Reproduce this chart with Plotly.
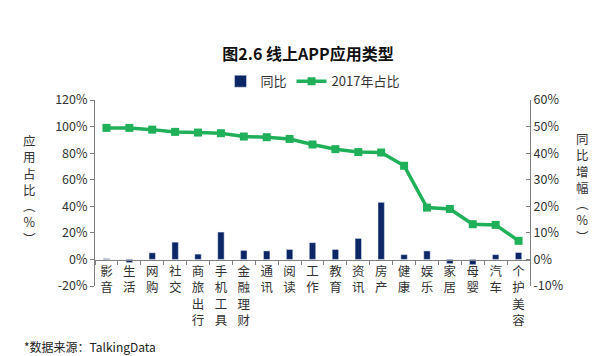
import plotly.graph_objects as go

categories = ["影音", "生活", "网购", "社交", "商旅出行", "手机工具", "金融理财", "通讯", "阅读", "工作",
              "教育", "资讯", "房产", "健康", "娱乐", "家居", "母婴", "汽车", "个护美容"]
share_2017 = [99, 99, 97.7, 96, 95.5, 95, 92.5, 92, 90.7, 86.5, 83, 80.8, 80.5, 70.5, 39, 38, 26.5, 26, 14]
yoy = [0.3, -1.2, 2.5, 6.5, 2, 10.3, 3.4, 3.2, 3.75, 6.3, 3.75, 7.9, 21.5, 1.8, 3.2, -1.6, -2.0, 1.8, 2.6]

left_ticks = [-20, 0, 20, 40, 60, 80, 100, 120]
right_ticks = [-10, 0, 10, 20, 30, 40, 50, 60]
left_title = ["应", "用", "占", "比", "︵", "%", "︶"]
right_title = ["同", "比", "增", "幅", "︵", "%", "︶"]

FONT = "Noto Sans CJK SC"
NAVY = "#0d2766"
GREEN = "#21b05a"
AX = "#808080"
TXT = "#333333"

ticktext = ["<br>".join(list(c)) for c in categories]

fig = go.Figure()
fig.add_trace(go.Bar(x=categories, y=yoy, name="同比", marker_color=NAVY, yaxis="y2", width=0.28))
fig.add_trace(go.Scatter(x=categories, y=share_2017, name="2017年占比", mode="lines+markers",
                         line=dict(color=GREEN, width=3.5),
                         marker=dict(symbol="square", size=8, color=GREEN)))

plot_top, plot_bot = 92, 278
H = plot_bot - plot_top
W = 522 - 87
zero_frac = (plot_bot - 252) / H


def py(p):
    return (plot_bot - p) / H


def px(p):
    return (p - 87) / W


fig.update_layout(
    width=600, height=356,
    margin=dict(l=87, r=600 - 522, t=plot_top, b=356 - plot_bot),
    paper_bgcolor="white", plot_bgcolor="white",
    font=dict(family=FONT, size=12, color=TXT),
    showlegend=True,
    legend=dict(orientation="h", x=0.5, xanchor="center", y=1.02, yanchor="bottom",
                font=dict(size=13, color=TXT), traceorder="normal"),
    title=dict(text="<b>图2.6 线上APP应用类型</b>", x=0.5, xanchor="center", y=0.87, yanchor="middle",
               font=dict(size=16, color="#111111", family=FONT)),
    bargap=0.7,
    xaxis=dict(type="category", tickmode="array", tickvals=categories, ticktext=ticktext,
               anchor="free", position=zero_frac, showline=True, linecolor=AX, linewidth=1,
               ticks="outside", tickson="boundaries", ticklen=4, tickcolor=AX,
               showgrid=False, tickfont=dict(size=12.5, color=TXT), range=[-0.5, len(categories) - 0.5]),
    yaxis=dict(range=[-20, 120], tickvals=left_ticks, ticktext=[f"{v}%" for v in left_ticks],
               showline=True, linecolor=AX, ticks="outside", ticklen=4, tickcolor=AX,
               showgrid=False, zeroline=False, tickfont=dict(size=12.5, color=TXT)),
    yaxis2=dict(range=[-10, 60], tickvals=right_ticks, ticktext=[f"{v}%" for v in right_ticks],
                overlaying="y", side="right", showline=True, linecolor=AX, ticks="inside", ticklen=4,
                tickcolor=AX, showgrid=False, zeroline=False, tickfont=dict(size=12.5, color=TXT)),
)

fig.add_annotation(text="<br>".join(left_title), xref="paper", yref="paper", x=px(21), y=py(181),
                   xanchor="center", yanchor="middle", showarrow=False,
                   font=dict(size=12.5, color=TXT))
fig.add_annotation(text="<br>".join(right_title), xref="paper", yref="paper", x=px(574), y=py(179),
                   xanchor="center", yanchor="middle", showarrow=False,
                   font=dict(size=12.5, color=TXT))
fig.add_annotation(text="*数据来源：TalkingData", xref="paper", yref="paper",
                   x=px(14), y=py(338), xanchor="left", yanchor="middle", showarrow=False,
                   font=dict(size=12, color="#222222"))

fig.write_html("out.html")
